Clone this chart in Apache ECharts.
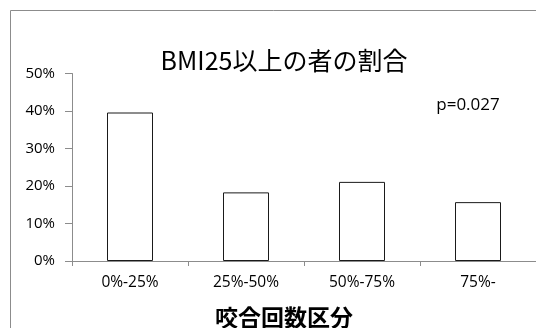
<!DOCTYPE html>
<html>
<head>
<meta charset="utf-8">
<script src="https://cdn.jsdelivr.net/npm/echarts@6/dist/echarts.min.js"></script>
<style>
  html, body { margin: 0; padding: 0; background: #fff; }
  #chart { width: 536px; height: 328px; }
</style>
</head>
<body>
<div id="chart"></div>
<script>
// 咬合回数区分ごとの BMI25 以上の者の割合
const categories = ['0%-25%', '25%-50%', '50%-75%', '75%-'];
const shares = [0.396, 0.183, 0.211, 0.157];
const yTicks = [0, 0.1, 0.2, 0.3, 0.4, 0.5];
const titleText = 'BMI25以上の者の割合';
const pValueText = 'p=0.027';
const xAxisTitle = '咬合回数区分';

const latinFont = '"Open Sans", "Noto Sans CJK JP", sans-serif';
const cjkFont = '"Noto Sans CJK JP", sans-serif';

const chart = echarts.init(document.getElementById('chart'), null, { renderer: 'canvas' });

chart.setOption({
  animation: false,
  backgroundColor: '#ffffff',
  graphic: [
    {
      type: 'rect',
      shape: { x: 10.5, y: 10.5, width: 540, height: 330 },
      style: { fill: 'none', stroke: '#8c8c8c', lineWidth: 1 },
      silent: true
    },
    {
      type: 'text',
      x: 284,
      y: 60,
      style: {
        text: titleText,
        font: '25px ' + cjkFont,
        fill: '#000',
        align: 'center',
        verticalAlign: 'middle'
      }
    },
    {
      type: 'text',
      x: 468,
      y: 105,
      style: {
        text: pValueText,
        font: '17px ' + latinFont,
        fill: '#000',
        align: 'center',
        verticalAlign: 'middle'
      }
    },
    {
      type: 'text',
      x: 284,
      y: 317,
      style: {
        text: xAxisTitle,
        font: 'bold 23px ' + cjkFont,
        fill: '#000',
        align: 'center',
        verticalAlign: 'middle'
      }
    }
  ],
  grid: { left: 72, right: -2, top: 73.5, bottom: 67 },
  xAxis: {
    type: 'category',
    data: categories,
    axisLine: { lineStyle: { color: '#8c8c8c', width: 1 } },
    axisTick: { show: true, length: 5, lineStyle: { color: '#8c8c8c' } },
    axisLabel: { fontFamily: latinFont, fontSize: 15.5, color: '#000', margin: 14 }
  },
  yAxis: {
    type: 'value',
    min: yTicks[0],
    max: yTicks[yTicks.length - 1],
    interval: yTicks[1] - yTicks[0],
    axisLine: { show: true, lineStyle: { color: '#8c8c8c', width: 1 } },
    axisTick: { show: true, inside: false, length: 7, lineStyle: { color: '#8c8c8c' } },
    splitLine: { show: false },
    axisLabel: {
      fontFamily: latinFont,
      fontSize: 15,
      color: '#000',
      margin: 17,
      formatter: v => Math.round(v * 100) + '%'
    }
  },
  series: [{
    type: 'bar',
    data: shares,
    barWidth: 46,
    itemStyle: { color: '#ffffff', borderColor: '#1a1a1a', borderWidth: 1 }
  }]
});
</script>
</body>
</html>
